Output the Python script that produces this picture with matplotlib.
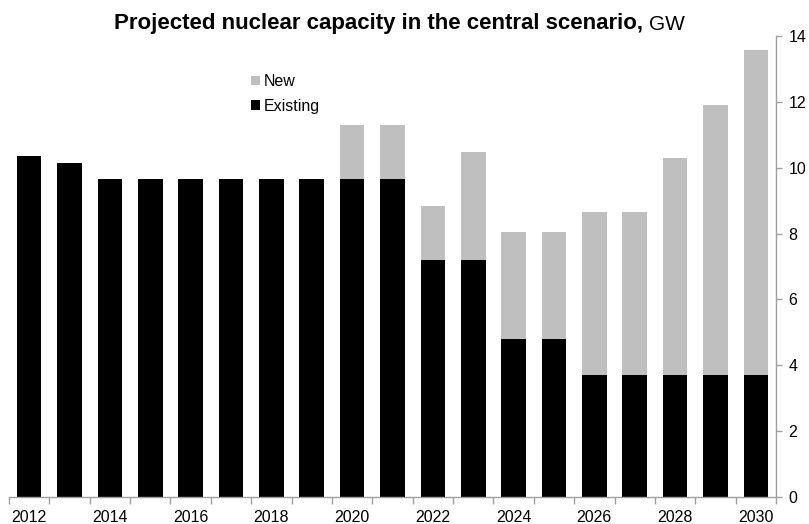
import matplotlib
matplotlib.use('Agg')
import matplotlib.pyplot as plt
from matplotlib.patches import Patch

plt.rcParams['font.family'] = ['Liberation Sans', 'DejaVu Sans']

# data (GW)
years = list(range(2012, 2031))
existing = [10.36, 10.14, 9.65, 9.65, 9.65, 9.65, 9.65, 9.65, 9.65, 9.65,
            7.2, 7.2, 4.79, 4.79, 3.7, 3.7, 3.7, 3.7, 3.7]
new = [0, 0, 0, 0, 0, 0, 0, 0, 1.65, 1.65,
       1.64, 3.29, 3.26, 3.26, 4.94, 4.94, 6.58, 8.2, 9.86]
year_labels = [str(y) for y in years]

grey = '#bfbfbf'
axis_col = '#a0a0a0'

fig = plt.figure(figsize=(8.09, 5.24), dpi=100)
ax = fig.add_axes([9/809, 1 - 497/524, (776 - 9)/809, (497 - 36)/524])

x = list(range(len(years)))
ax.bar(x, existing, width=0.61, color='black', edgecolor='none')
ax.bar(x, new, width=0.61, bottom=existing, color=grey, edgecolor='none')

ax.set_xlim(-0.5, len(years) - 0.5)
ax.set_ylim(0, 14)

# y axis on the right
ax.yaxis.tick_right()
ax.set_yticks(range(0, 15, 2))
ax.tick_params(axis='y', direction='out', length=4, width=1, color=axis_col,
               labelsize=11.5, pad=5)

# x axis: labels every other year, ticks at the category boundaries
ax.set_xticks(x[::2])
ax.set_xticklabels(year_labels[::2])
ax.set_xticks([i - 0.5 for i in range(len(years) + 1)], minor=True)
ax.tick_params(axis='x', which='major', length=0, labelsize=11.5, pad=9)
ax.tick_params(axis='x', which='minor', direction='out', length=5, width=1, color=axis_col)

for side in ['top', 'left']:
    ax.spines[side].set_visible(False)
for side in ['bottom', 'right']:
    ax.spines[side].set_color(axis_col)
    ax.spines[side].set_linewidth(1)

# title: bold part + plain unit
t = fig.text(114/809, 1 - 29/524, 'Projected nuclear capacity in the central scenario,',
             fontsize=16, fontweight='bold', ha='left', va='baseline')
fig.canvas.draw()
ax.annotate('GW', xy=(1, 0), xycoords=t, xytext=(4, 0), textcoords='offset points',
            fontsize=15, ha='left', va='bottom', annotation_clip=False)

handles = [Patch(facecolor=grey, edgecolor='none', label='New'),
           Patch(facecolor='black', edgecolor='none', label='Existing')]
fig.legend(handles=handles, loc='upper left', bbox_to_anchor=(251/809, 1 - 74/524),
           frameon=False, fontsize=11.5, handlelength=0.55, handleheight=0.55,
           handletextpad=0.25, labelspacing=0.6, borderpad=0, borderaxespad=0)

fig.savefig('out.png', dpi=100)
